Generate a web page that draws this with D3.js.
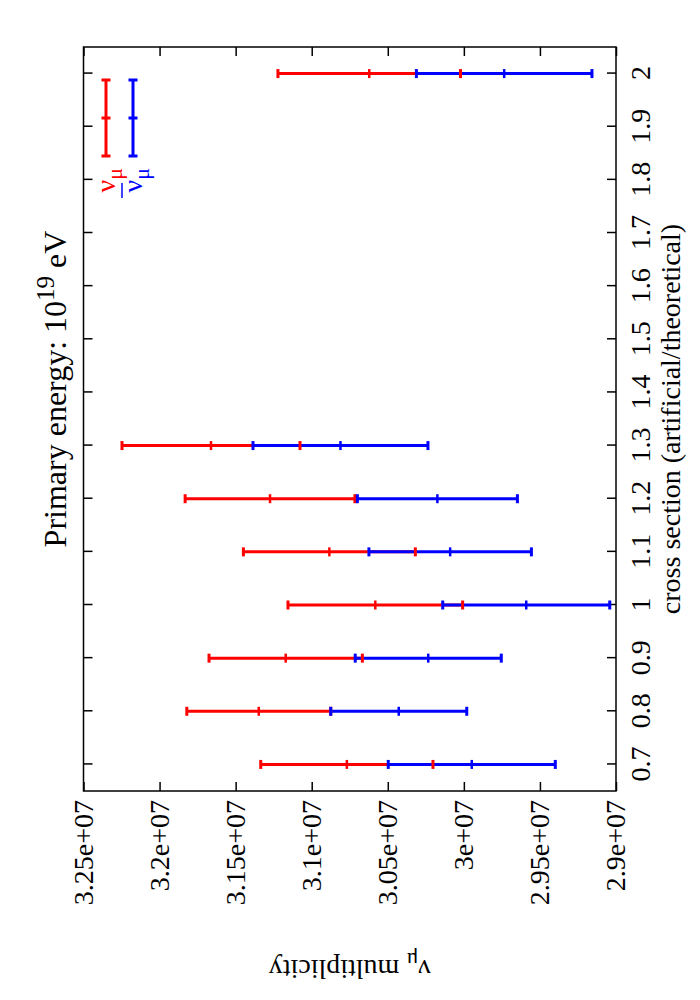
<!DOCTYPE html>
<html>
<head>
<meta charset="UTF-8">
<title>nu_mu multiplicity vs cross section</title>
<script src="https://d3js.org/d3.v7.min.js"></script>
<style>
  body { margin: 0; background: #fff; }
  #chart text { font-family: "Liberation Serif", "Times New Roman", Times, "DejaVu Serif", serif; font-size: 28px; fill: #000; }
  .axis path { display: none; }
  .axis line { stroke: #000; stroke-width: 1.5px; }
</style>
</head>
<body>
<svg id="chart" width="700" height="1000" font-family="Liberation Serif"></svg>
<script>
// cross section values (artificial/theoretical)
const crossSection = [0.7, 0.8, 0.9, 1.0, 1.1, 1.2, 1.3, 2.0];
// nu_mu multiplicity and its error (red)
const numuMult = [3.0769e7, 3.1348e7, 3.1171e7, 3.0582e7, 3.0884e7, 3.1274e7, 3.1662e7, 3.0622e7];
const numuErr  = [5.66e5, 4.73e5, 5.04e5, 5.74e5, 5.65e5, 5.58e5, 5.85e5, 6.0e5];
// anti nu_mu multiplicity and its error (blue)
const numubarMult = [2.9948e7, 3.0428e7, 3.0234e7, 2.959e7, 3.009e7, 3.0174e7, 3.0811e7, 2.9735e7];
const numubarErr  = [5.49e5, 4.47e5, 4.80e5, 5.49e5, 5.34e5, 5.26e5, 5.75e5, 5.77e5];

const xTicks = [0.7, 0.8, 0.9, 1.0, 1.1, 1.2, 1.3, 1.4, 1.5, 1.6, 1.7, 1.8, 1.9, 2.0];
const xTickLabels = ["0.7", "0.8", "0.9", "1", "1.1", "1.2", "1.3", "1.4", "1.5", "1.6", "1.7", "1.8", "1.9", "2"];
const yTicks = [2.9e7, 2.95e7, 3.0e7, 3.05e7, 3.1e7, 3.15e7, 3.2e7, 3.25e7];
const yTickLabels = ["2.9e+07", "2.95e+07", "3e+07", "3.05e+07", "3.1e+07", "3.15e+07", "3.2e+07", "3.25e+07"];

// the plot is a landscape page (1000 x 700) turned 90 degrees counter-clockwise
const W = 1000, H = 700;
const margin = { top: 83.5, right: 47, bottom: 84, left: 209 };
const serif = '"Liberation Serif", "Times New Roman", serif';

const svg = d3.select("#chart");
const g = svg.append("g").attr("transform", `translate(0,${W}) rotate(-90)`);

const x = d3.scaleLinear().domain([0.65, 2.05]).range([margin.left, W - margin.right]);
const y = d3.scaleLinear().domain([2.9e7, 3.25e7]).range([H - margin.bottom, margin.top]);

// axes, ticks pointing inwards, mirrored on the opposite sides
g.append("g").attr("class", "axis")
  .attr("transform", `translate(0,${H - margin.bottom})`)
  .call(d3.axisBottom(x).tickValues(xTicks).tickFormat((d, i) => xTickLabels[i]).tickSize(-9).tickPadding(14));
g.append("g").attr("class", "axis")
  .attr("transform", `translate(0,${margin.top})`)
  .call(d3.axisTop(x).tickValues(xTicks).tickFormat("").tickSize(-9));
g.append("g").attr("class", "axis")
  .attr("transform", `translate(${margin.left},0)`)
  .call(d3.axisLeft(y).tickValues(yTicks).tickFormat((d, i) => yTickLabels[i]).tickSize(-9).tickPadding(9));
g.append("g").attr("class", "axis")
  .attr("transform", `translate(${W - margin.right},0)`)
  .call(d3.axisRight(y).tickValues(yTicks).tickFormat("").tickSize(-9));
g.selectAll(".axis").attr("font-family", serif).attr("font-size", 28);

g.append("rect")
  .attr("x", margin.left).attr("y", margin.top)
  .attr("width", W - margin.left - margin.right)
  .attr("height", H - margin.top - margin.bottom)
  .attr("fill", "none").attr("stroke", "#000").attr("stroke-width", 1.5);

// error bars
const series = [
  { color: "#ff0000", mult: numuMult, err: numuErr },
  { color: "#0000ff", mult: numubarMult, err: numubarErr }
];
const cap = 4.5;

series.forEach(s => {
  g.append("g").selectAll("line")
    .data(crossSection)
    .join("line")
    .attr("x1", d => x(d)).attr("x2", d => x(d))
    .attr("y1", (d, i) => y(s.mult[i] - s.err[i]))
    .attr("y2", (d, i) => y(s.mult[i] + s.err[i]))
    .attr("stroke", s.color).attr("stroke-width", 3);
});

series.forEach(s => {
  const caps = g.append("g").attr("stroke", s.color).attr("stroke-width", 3);
  [-1, 0, 1].forEach(k => {
    caps.selectAll(null)
      .data(crossSection)
      .join("line")
      .attr("x1", d => x(d) - cap).attr("x2", d => x(d) + cap)
      .attr("y1", (d, i) => y(s.mult[i] + k * s.err[i]))
      .attr("y2", (d, i) => y(s.mult[i] + k * s.err[i]))
      .attr("stroke-width", k === 0 ? 2.5 : 3);
  });
});

// key
const keyX0 = 844, keyX1 = 920;
const keyItems = [
  { color: "#ff0000", y: 106, bar: false },
  { color: "#0000ff", y: 133, bar: true }
];
keyItems.forEach(k => {
  const kg = g.append("g").attr("stroke", k.color).attr("stroke-width", 3);
  kg.append("line").attr("x1", keyX0).attr("x2", keyX1).attr("y1", k.y).attr("y2", k.y);
  [keyX0, (keyX0 + keyX1) / 2, keyX1].forEach(px => {
    kg.append("line").attr("x1", px).attr("x2", px).attr("y1", k.y - cap).attr("y2", k.y + cap);
  });
  const t = g.append("text")
    .attr("x", 832).attr("y", k.y + 9)
    .attr("text-anchor", "end")
    .style("fill", k.color);
  t.append("tspan").text("ν");
  t.append("tspan").attr("dy", 7).style("font-size", "22px").text("μ");
  if (k.bar) {
    // bar over the nu of the antineutrino label
    g.append("line")
      .attr("x1", 802).attr("x2", 817)
      .attr("y1", k.y - 11).attr("y2", k.y - 11)
      .attr("stroke", k.color).attr("stroke-width", 1.5);
  }
});

// title
const title = g.append("text")
  .attr("x", 611)
  .attr("y", 66)
  .attr("text-anchor", "middle")
  .style("font-size", "32px");
title.append("tspan").text("Primary energy: 10");
title.append("tspan").attr("dy", -12).style("font-size", "25px").text("19");
title.append("tspan").attr("dy", 12).text(" eV");

// axis labels
g.append("text")
  .attr("x", (margin.left + W - margin.right) / 2)
  .attr("y", 680)
  .attr("text-anchor", "middle")
  .text("cross section (artificial/theoretical)");

const yl = g.append("text")
  .attr("transform", `translate(40,${(margin.top + H - margin.bottom) / 2}) rotate(-90)`)
  .attr("text-anchor", "middle");
yl.append("tspan").text("ν");
yl.append("tspan").attr("dy", 7).style("font-size", "22px").text("μ");
yl.append("tspan").attr("dy", -7).text(" multiplicity");
</script>
</body>
</html>
